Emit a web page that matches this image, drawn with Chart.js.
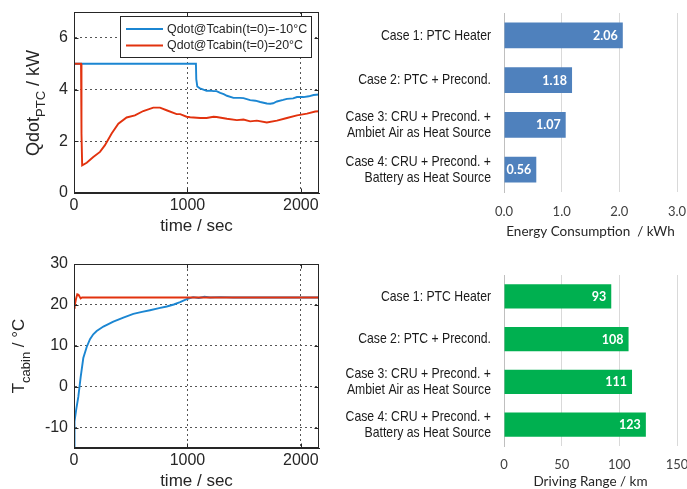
<!DOCTYPE html>
<html><head><meta charset="utf-8">
<script src="https://cdn.jsdelivr.net/npm/chart.js@4.4.0/dist/chart.umd.min.js"></script>
<style>
html,body{margin:0;padding:0;background:#fff;width:687px;height:489px;overflow:hidden;position:relative}
.box{position:absolute}
canvas{display:block}
</style></head><body>
<div class="box" style="left:0;top:0"><canvas id="c1" width="330" height="245"></canvas></div>
<div class="box" style="left:0;top:245px"><canvas id="c2" width="330" height="250"></canvas></div>
<div class="box" style="left:330px;top:0"><canvas id="c3" width="357" height="245"></canvas></div>
<div class="box" style="left:330px;top:245px"><canvas id="c4" width="357" height="250"></canvas></div>
<script>
// ---------- data ----------
const qTimeBlue = [0, 1075, 1078, 1087, 1110, 1141, 1169, 1200, 1230, 1257, 1289, 1320, 1348, 1406, 1463, 1494, 1553, 1600, 1642, 1700, 1730, 1756, 1789, 1844, 1877, 1932, 1966, 2024, 2070, 2112, 2160];
const qBlue     = [5, 5, 4.4, 4.12, 4.05, 4.0, 3.95, 3.96, 3.94, 3.94, 3.87, 3.82, 3.76, 3.68, 3.68, 3.67, 3.59, 3.57, 3.52, 3.46, 3.45, 3.47, 3.54, 3.6, 3.64, 3.66, 3.71, 3.71, 3.74, 3.79, 3.81];
const qTimeRed  = [0, 62, 66, 72, 112, 170, 229, 273, 332, 391, 464, 537, 611, 699, 758, 816, 905, 936, 993, 1024, 1112, 1169, 1230, 1257, 1348, 1436, 1494, 1553, 1612, 1700, 1789, 1877, 1966, 2054, 2127, 2160];
const qRed      = [5, 5, 2.3, 1.07, 1.17, 1.39, 1.59, 1.85, 2.3, 2.68, 2.92, 3.0, 3.17, 3.3, 3.3, 3.2, 3.05, 3.05, 2.95, 2.93, 2.9, 2.9, 2.95, 2.94, 2.87, 2.82, 2.84, 2.77, 2.8, 2.73, 2.8, 2.9, 3.0, 3.07, 3.15, 3.16];

const tTimeBlue = [0, 3, 6, 20, 38, 59, 82, 112, 141, 170, 200, 259, 347, 435, 523, 600, 670, 750, 818, 880, 935, 994, 1050, 1100, 1150, 1200, 1290, 1400, 2160];
const tBlue     = [-15, -15, -8.5, -5.5, -2.5, 2.4, 7.0, 9.7, 11.6, 12.8, 13.6, 14.7, 15.9, 16.9, 17.8, 18.3, 18.7, 19.2, 19.6, 20.1, 20.7, 21.4, 21.9, 21.7, 22.0, 21.8, 21.9, 21.8, 21.8];
const tTimeRed  = [0, 6, 18, 29, 40, 50, 59, 71, 2160];
const tRed      = [19.3, 19.8, 21.5, 22.6, 22.5, 22.0, 21.6, 21.8, 21.8];

const seriesNames = ['Qdot@Tcabin(t=0)=-10°C', 'Qdot@Tcabin(t=0)=20°C'];
const timeTicks = [0, 1000, 2000];
const qTicks = [0, 2, 4, 6];
const tTicks = [-10, 0, 10, 20, 30];

const caseLabels = [
  ['Case 1: PTC Heater'],
  ['Case 2: PTC + Precond.'],
  ['Case 3: CRU + Precond. +', 'Ambiet Air as Heat Source'],
  ['Case 4: CRU + Precond. +', 'Battery as Heat Source']
];
const energyValues = [2.06, 1.18, 1.07, 0.56];
const rangeValues = [93, 108, 111, 123];
const energyTickLabels = ['0.0', '1.0', '2.0', '3.0'];
const rangeTickLabels = ['0', '50', '100', '150'];

// ---------- style ----------
const FONT_L = "'Liberation Sans', Arial, sans-serif";
const FONT_C = "Lato, 'Open Sans', sans-serif";
const BLUE = '#1b86d2', RED = '#e2320e';
const INK = '#262626';

function pts(xs, ys) { return xs.map((x, i) => ({x: x, y: ys[i]})); }

const matlabBox = {
  id: 'matlabBox',
  afterDraw(chart) {
    const {ctx, chartArea: a, scales: {x, y}} = chart;
    ctx.save();
    ctx.setLineDash([]);
    ctx.strokeStyle = INK; ctx.lineWidth = 1;
    const l = Math.round(a.left) + 0.5, t = Math.round(a.top) + 0.5, r = Math.round(a.right) - 0.5, b = Math.round(a.bottom) - 0.5;
    ctx.strokeRect(l, t, r - l, b - t);
    const L = 4;
    ctx.beginPath();
    x.ticks.forEach(tk => {
      const px = Math.round(x.getPixelForValue(tk.value)) + 0.5;
      ctx.moveTo(px, b); ctx.lineTo(px, b - L);
      ctx.moveTo(px, t); ctx.lineTo(px, t + L);
    });
    y.ticks.forEach(tk => {
      const py = Math.round(y.getPixelForValue(tk.value)) + 0.5;
      ctx.moveTo(l, py); ctx.lineTo(l + L, py);
      ctx.moveTo(r, py); ctx.lineTo(r - L, py);
    });
    ctx.stroke();
    ctx.restore();
  }
};

const yTitle = {
  id: 'yTitle',
  afterDraw(chart, args, o) {
    if (!o || !o.parts) return;
    const ctx = chart.ctx;
    ctx.save();
    ctx.translate(o.cx, o.cy);
    ctx.rotate(-Math.PI / 2);
    ctx.fillStyle = INK;
    ctx.textBaseline = 'middle';
    ctx.textAlign = 'left';
    let total = 0;
    o.parts.forEach(p => { ctx.font = p.size + 'px ' + FONT_L; p.w = ctx.measureText(p.t).width; total += p.w; });
    let xpos = -total / 2;
    o.parts.forEach(p => {
      ctx.font = p.size + 'px ' + FONT_L;
      ctx.fillText(p.t, xpos, p.sub ? o.subShift : 0);
      xpos += p.w;
    });
    ctx.restore();
  }
};

const boxLegend = {
  id: 'boxLegend',
  afterDraw(chart, args, o) {
    if (!o || !o.show) return;
    const ctx = chart.ctx;
    ctx.save();
    ctx.fillStyle = '#fff';
    ctx.fillRect(o.x, o.y, o.w, o.h);
    ctx.strokeStyle = INK; ctx.lineWidth = 1;
    ctx.strokeRect(o.x + 0.5, o.y + 0.5, o.w, o.h);
    const order = [1, 0];
    order.forEach((di, k) => {
      const ds = chart.data.datasets[di];
      const yy = o.y + o.row0 + k * o.rowH;
      ctx.strokeStyle = ds.borderColor; ctx.lineWidth = 2;
      ctx.beginPath(); ctx.moveTo(o.x + 6, yy); ctx.lineTo(o.x + 43, yy); ctx.stroke();
      ctx.fillStyle = INK;
      ctx.font = '12.4px ' + FONT_L;
      ctx.textBaseline = 'middle';
      ctx.fillText(ds.label, o.x + 47, yy + 0.5);
    });
    ctx.restore();
  }
};

const barLabels = {
  id: 'barLabels',
  afterDatasetsDraw(chart, args, o) {
    const ctx = chart.ctx;
    const meta = chart.getDatasetMeta(0);
    const vals = chart.data.datasets[0].data;
    ctx.save();
    ctx.fillStyle = '#fff';
    ctx.font = 'bold 12.5px ' + FONT_C;
    ctx.textAlign = 'right';
    ctx.textBaseline = 'middle';
    meta.data.forEach((bar, i) => {
      ctx.fillText(o.fmt(vals[i]), bar.x - 5, bar.y + 0.5);
    });
    ctx.restore();
  }
};

// condensed category labels (Arial Narrow look), drawn at the category scale's tick positions
const catLabels = {
  id: 'catLabels',
  afterDraw(chart) {
    const ctx = chart.ctx, y = chart.scales.y;
    const right = chart.chartArea.left - 13;
    ctx.save();
    ctx.fillStyle = '#1a1a1a';
    ctx.font = '15px ' + FONT_L;
    ctx.textBaseline = 'middle';
    ctx.textAlign = 'right';
    chart.data.labels.forEach((lines, i) => {
      const cy = y.getPixelForTick(i);
      lines.forEach((ln, k) => {
        const yy = cy + (k - (lines.length - 1) / 2) * 16;
        ctx.save(); ctx.translate(right, yy); ctx.scale(0.815, 1); ctx.fillText(ln, 0, 0); ctx.restore();
      });
    });
    ctx.restore();
  }
};

function lineChart(id, datasets, yMin, yMax, yTickVals, padTop, xHeight, titlePad, titleOpts, legendOpts) {
  return new Chart(document.getElementById(id), {
    type: 'line',
    data: {datasets: datasets},
    options: {
      responsive: false, animation: false, devicePixelRatio: 1,
      layout: {padding: {top: padTop, right: 11, left: 0, bottom: 0}},
      elements: {point: {radius: 0}, line: {tension: 0, borderWidth: 1.9}},
      plugins: {legend: {display: false}, tooltip: {enabled: false}, yTitle: titleOpts, boxLegend: legendOpts || {show: false}},
      scales: {
        x: {
          type: 'linear', min: 0, max: 2160,
          afterBuildTicks(s) { s.ticks = timeTicks.map(v => ({value: v})); },
          ticks: {padding: 3, color: INK, font: {family: FONT_L, size: 16}, maxRotation: 0, autoSkip: false, callback: v => String(v)},
          grid: {color: '#555', drawTicks: false, borderDash: [2, 3]},
          border: {display: true, color: INK, dash: [2, 3]},
          title: {display: true, text: 'time / sec', color: INK, font: {family: FONT_L, size: 17}, padding: {top: 0, bottom: titlePad}},
          afterFit(s) { s.height = xHeight; s.paddingLeft = 0; s.paddingRight = 0; }
        },
        y: {
          type: 'linear', min: yMin, max: yMax,
          afterBuildTicks(s) { s.ticks = yTickVals.map(v => ({value: v})); },
          ticks: {padding: 6, color: INK, font: {family: FONT_L, size: 16}, autoSkip: false, callback: v => String(v)},
          grid: {color: '#555', drawTicks: false, borderDash: [2, 3]},
          border: {display: true, color: INK, dash: [2, 3]},
          afterFit(s) { s.width = 74; s.paddingTop = 0; s.paddingBottom = 0; }
        }
      }
    },
    plugins: [matlabBox, yTitle, boxLegend]
  });
}

function barChart(id, values, color, xMax, xStep, tickLabels, title, padTop, xHeight, tickPad, titlePad, fmt) {
  return new Chart(document.getElementById(id), {
    type: 'bar',
    data: {labels: caseLabels, datasets: [{data: values, backgroundColor: color, borderWidth: 0, barPercentage: 0.57, categoryPercentage: 1}]},
    options: {
      indexAxis: 'y', responsive: false, animation: false, devicePixelRatio: 1,
      layout: {padding: {top: padTop, right: 10, left: 0, bottom: 0}},
      plugins: {legend: {display: false}, tooltip: {enabled: false}, barLabels: {fmt: fmt}},
      scales: {
        x: {
          type: 'linear', min: 0, max: xMax,
          ticks: {stepSize: xStep, padding: tickPad, color: '#404040', font: {family: FONT_C, size: 13}, maxRotation: 0, callback: (v, i) => tickLabels[i]},
          grid: {color: '#d9d9d9', drawTicks: false},
          border: {display: false},
          title: {display: true, text: title, color: '#262626', font: {family: FONT_C, size: 13.5}, padding: {top: 0, bottom: titlePad}},
          afterFit(s) { s.height = xHeight; s.paddingLeft = 0; s.paddingRight = 0; }
        },
        y: {
          ticks: {display: false},
          grid: {display: false, drawTicks: false},
          border: {display: true, color: '#bfbfbf'},
          afterFit(s) { s.width = 174; s.paddingTop = 0; s.paddingBottom = 0; }
        }
      }
    },
    plugins: [barLabels, catLabels]
  });
}

lineChart('c1', [
  {label: seriesNames[1], data: pts(qTimeRed, qRed), borderColor: RED, fill: false},
  {label: seriesNames[0], data: pts(qTimeBlue, qBlue), borderColor: BLUE, fill: false}
], 0, 7, qTicks, 12, 52, 8,
  {parts: [{t: 'Qdot', size: 18}, {t: 'PTC', size: 13, sub: true}, {t: ' / kW', size: 18}], cx: 34, cy: 103, subShift: 7},
  {show: true, x: 120, y: 16, w: 191, h: 41, row0: 13, rowH: 16.5});

lineChart('c2', [
  {label: 'T20', data: pts(tTimeRed, tRed), borderColor: RED, fill: false},
  {label: 'T-10', data: pts(tTimeBlue, tBlue), borderColor: BLUE, fill: false}
], -15, 30, tTicks, 19, 47, 3,
  {parts: [{t: 'T', size: 17}, {t: 'cabin', size: 13, sub: true}, {t: ' / °C', size: 17}], cx: 19, cy: 111, subShift: 7});

barChart('c3', energyValues, '#4f81bd', 3, 1, energyTickLabels, 'Energy Consumption  / kWh', 13, 53, 12, 5, v => v.toFixed(2));
barChart('c4', rangeValues, '#00b050', 150, 50, rangeTickLabels, 'Driving Range / km', 30, 49, 11, 5, v => String(v));
</script>
</body></html>
